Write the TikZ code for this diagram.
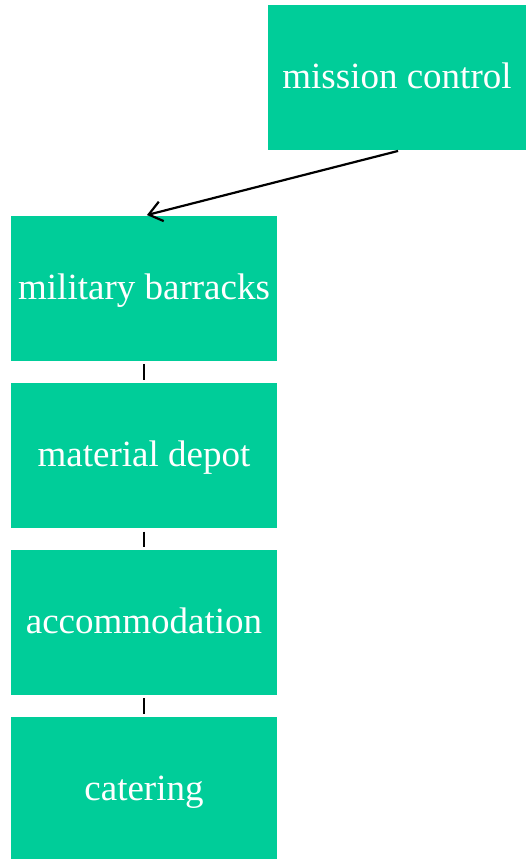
\documentclass[tikz,border=0pt]{standalone}
\usepackage{fontspec}
\setmainfont{Liberation Serif}
\usetikzlibrary{positioning,arrows.meta,calc}

\definecolor{boxgreen}{RGB}{0,205,153}
\tikzset{
  unit/.style={rectangle, fill=boxgreen, text=white, inner sep=0pt,
    minimum width=266pt, minimum height=145pt,
    text height=30pt, text depth=8pt,
    font=\fontsize{37}{44}\selectfont},
  link/.style={black, line width=1.5pt, shorten <=3pt, shorten >=3pt},
}

\begin{document}
\begin{tikzpicture}[x=1pt,y=-1pt]
		\useasboundingbox (0,0) rectangle (526,859);
		\node[unit, minimum width=258pt] (control) at (397,77.5) {mission control};
		\node[unit] (barracks) at (144,288.5) {military barracks};
		\node[unit, below=22pt of barracks] (depot) {material depot};
		\node[unit, below=21pt of depot] (accom) {accommodation};
		\node[unit, below=22pt of accom] (catering) {catering};
		\draw [link, line width=2.2pt, -{Straight Barb[length=13pt,width=20pt]}] ($(control.south)+(4,0)$) -- (barracks.north) ;
		\draw [link] (barracks) -- (depot) ;
		\draw [link] (depot) -- (accom) ;
		\draw [link] (accom) -- (catering) ;
		\end{tikzpicture}
\end{document}
